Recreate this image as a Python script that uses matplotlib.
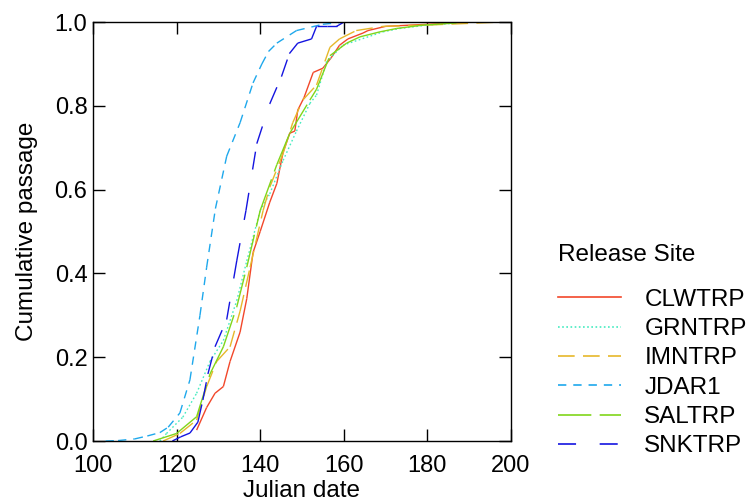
import matplotlib
matplotlib.use("Agg")
import matplotlib.pyplot as plt
from matplotlib.lines import Line2D

plt.rcParams['font.family'] = ['Liberation Sans', 'DejaVu Sans']
plt.rcParams['lines.scale_dashes'] = False

# cumulative passage curves (julian date, fraction)
clw_x = [124.8, 127.2, 129.2, 131.2, 132.8, 135.2, 136.8, 138.3, 140, 142.3, 144, 145.5,
         147.1, 148.3, 149, 150.5, 152.7, 155, 157, 159, 161, 164.6, 165.8, 170, 180, 190]
clw_y = [0.026, 0.08, 0.114, 0.13, 0.19, 0.26, 0.34, 0.45, 0.50, 0.57, 0.615, 0.69,
         0.735, 0.74, 0.79, 0.82, 0.88, 0.89, 0.915, 0.945, 0.96, 0.974, 0.98, 0.99, 0.995, 1.0]

grn_x = [116, 117.6, 121.5, 124.8, 128, 131.2, 134.4, 136.8, 140, 142.3, 145.5, 148.7,
         151.9, 153.5, 155.9, 159.8, 169.4, 173.4, 180, 190]
grn_y = [0, 0.018, 0.057, 0.114, 0.19, 0.24, 0.335, 0.43, 0.55, 0.59, 0.67, 0.74,
         0.806, 0.826, 0.905, 0.945, 0.977, 0.985, 0.993, 1.0]

imn_x = [116.8, 120.8, 124.8, 127.2, 129.6, 132.8, 135.2, 137.6, 140.7, 142.3, 145.5, 147.8,
         150.2, 153.5, 156.7, 159, 163, 169.4, 179.8, 197]
imn_y = [0, 0.018, 0.05, 0.13, 0.19, 0.225, 0.31, 0.415, 0.55, 0.606, 0.687, 0.76,
         0.814, 0.85, 0.94, 0.96, 0.98, 0.99, 0.993, 1.0]

jda_x = [103, 106, 110, 113, 116, 118, 120.8, 123.2, 125.6, 127.2, 129.3, 132, 135.2,
         138.3, 140.4, 142, 144, 148.7, 155, 160]
jda_y = [0, 0.001, 0.005, 0.012, 0.02, 0.033, 0.067, 0.146, 0.30, 0.415, 0.555, 0.68, 0.76,
         0.855, 0.90, 0.93, 0.95, 0.98, 0.995, 1.0]

sal_x = [114.4, 120, 124.8, 128, 131.2, 134.4, 136.8, 140, 144, 147.1, 151.9, 153.5,
         156.7, 160.7, 163.9, 168.7, 172.7, 179, 190]
sal_y = [0, 0.018, 0.058, 0.16, 0.225, 0.32, 0.415, 0.55, 0.66, 0.735, 0.814, 0.84,
         0.92, 0.95, 0.965, 0.977, 0.985, 0.993, 1.0]

snk_x = [119, 121, 123.2, 125.1, 126.3, 127.5, 129.2, 132, 134.4, 136.6, 139.2, 142.3,
         145.1, 147, 149, 152.3, 153.5, 155.9, 158.3, 160]
snk_y = [0, 0.01, 0.019, 0.045, 0.098, 0.16, 0.225, 0.29, 0.43, 0.55, 0.71, 0.805,
         0.87, 0.925, 0.95, 0.96, 0.99, 0.99, 0.99, 1.0]

sites = ["CLWTRP", "GRNTRP", "IMNTRP", "JDAR1", "SALTRP", "SNKTRP"]
xs = [clw_x, grn_x, imn_x, jda_x, sal_x, snk_x]
ys = [clw_y, grn_y, imn_y, jda_y, sal_y, snk_y]
colors = ["#F2472A", "#45EBC0", "#E6B82A", "#1EA8EC", "#80D61A", "#1414E0"]
# dash patterns in points
styles = ["-", (0, (1.2, 1.8)), (0, (12, 6)), (0, (6, 5)), (0, (24, 6)), (0, (13, 17))]

fig = plt.figure(figsize=(7.48, 5.04), dpi=100)
ax = fig.add_axes([0.1243, 0.125, 0.5587, 0.831])

for x, y, c, ls in zip(xs, ys, colors, styles):
    # each segment drawn on its own so the dash pattern restarts, like the original
    for i in range(len(x) - 1):
        ax.plot(x[i:i + 2], y[i:i + 2], color=c, linestyle=ls, lw=1.0,
                solid_capstyle="butt", dash_capstyle="butt")

ax.set_xlim(100, 200)
ax.set_ylim(0, 1)
ax.set_xticks([100, 120, 140, 160, 180, 200])
ax.set_yticks([0, 0.2, 0.4, 0.6, 0.8, 1.0])
ax.set_yticklabels(["0.0", "0.2", "0.4", "0.6", "0.8", "1.0"])
ax.tick_params(direction="in", length=8.5, width=1.0, labelsize=17,
               top=True, right=True)
ax.tick_params(axis="x", pad=10)
ax.tick_params(axis="y", pad=4)
for s in ax.spines.values():
    s.set_linewidth(1.0)

ax.set_xlabel("Julian date", fontsize=17.5, labelpad=2)
ax.set_ylabel("Cumulative passage", fontsize=17.5, labelpad=12)

fig.text(558 / 748, 1 - 255 / 504, "Release Site", fontsize=17.5, ha="left", va="center")
handles = [Line2D([0], [0], color=c, linestyle=ls, lw=1.2) for c, ls in zip(colors, styles)]
leg = fig.legend(handles, sites, loc="upper left",
                 bbox_to_anchor=(0.746, 0.427), frameon=False, fontsize=17.5,
                 borderpad=0, borderaxespad=0, handlelength=2.6, handletextpad=0.95,
                 labelspacing=0.3)

fig.savefig("out.png", dpi=100)
